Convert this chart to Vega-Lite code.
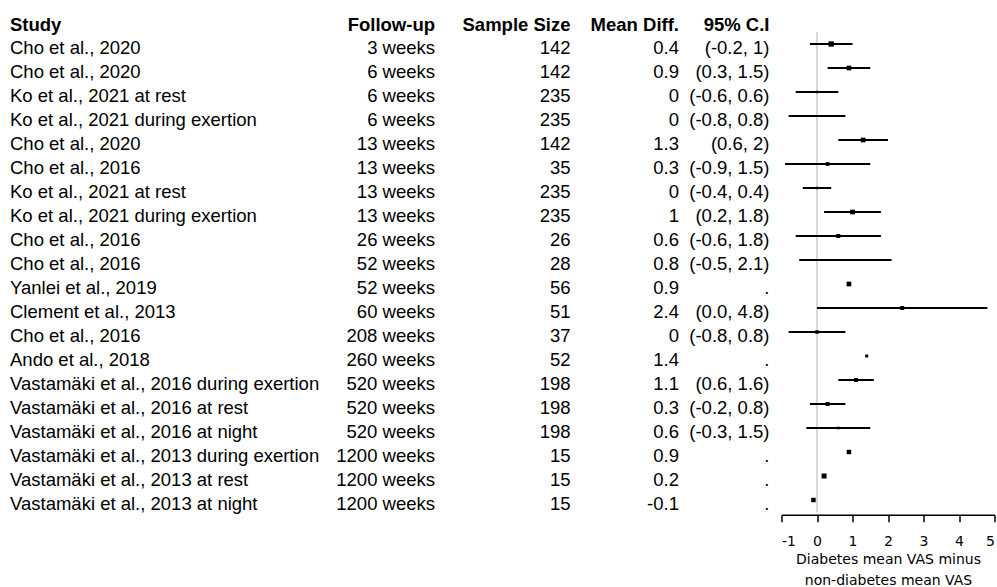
{
  "$schema": "https://vega.github.io/schema/vega-lite/v6.json",
  "padding": {"left": 10, "top": 15, "right": 0, "bottom": 0},
  "background": "white",
  "bounds": "flush",
  "spacing": 11.5,
  "config": {
    "view": {"stroke": null},
    "text": {"font": "Liberation Sans", "fontSize": 18.5, "color": "black"},
    "title": {"font": "Liberation Sans", "fontSize": 18.5, "fontWeight": "bold", "color": "black", "frame": "group", "baseline": "alphabetic", "offset": -2},
    "axisX": {
      "values": [-1, 0, 1, 2, 3, 4, 5],
      "labelExpr": "'' + datum.value",
      "labelOverlap": false,
      "grid": false,
      "offset": 2.7,
      "domainColor": "black", "domainWidth": 1.5,
      "tickColor": "black", "tickWidth": 1.5, "tickSize": 7,
      "labelFont": "DejaVu Sans", "labelFontSize": 14, "labelColor": "black", "labelPadding": 12.5,
      "titleFont": "DejaVu Sans", "titleFontSize": 14, "titleFontWeight": "normal", "titleColor": "black",
      "titleLineHeight": 21, "titlePadding": 4.5
    }
  },
  "data": {
    "values": [
      {"id": 1, "study": "Cho et al., 2020", "follow": "3 weeks", "n": 142, "md": 0.4, "lo": -0.2, "hi": 1, "ci": "(-0.2, 1)", "weight": 100},
      {"id": 2, "study": "Cho et al., 2020", "follow": "6 weeks", "n": 142, "md": 0.9, "lo": 0.3, "hi": 1.5, "ci": "(0.3, 1.5)", "weight": 79},
      {"id": 3, "study": "Ko et al., 2021 at rest", "follow": "6 weeks", "n": 235, "md": 0, "lo": -0.6, "hi": 0.6, "ci": "(-0.6, 0.6)", "weight": 21},
      {"id": 4, "study": "Ko et al., 2021 during exertion", "follow": "6 weeks", "n": 235, "md": 0, "lo": -0.8, "hi": 0.8, "ci": "(-0.8, 0.8)", "weight": 14},
      {"id": 5, "study": "Cho et al., 2020", "follow": "13 weeks", "n": 142, "md": 1.3, "lo": 0.6, "hi": 2, "ci": "(0.6, 2)", "weight": 79},
      {"id": 6, "study": "Cho et al., 2016", "follow": "13 weeks", "n": 35, "md": 0.3, "lo": -0.9, "hi": 1.5, "ci": "(-0.9, 1.5)", "weight": 50},
      {"id": 7, "study": "Ko et al., 2021 at rest", "follow": "13 weeks", "n": 235, "md": 0, "lo": -0.4, "hi": 0.4, "ci": "(-0.4, 0.4)", "weight": 21},
      {"id": 8, "study": "Ko et al., 2021 during exertion", "follow": "13 weeks", "n": 235, "md": 1, "lo": 0.2, "hi": 1.8, "ci": "(0.2, 1.8)", "weight": 79},
      {"id": 9, "study": "Cho et al., 2016", "follow": "26 weeks", "n": 26, "md": 0.6, "lo": -0.6, "hi": 1.8, "ci": "(-0.6, 1.8)", "weight": 57},
      {"id": 10, "study": "Cho et al., 2016", "follow": "52 weeks", "n": 28, "md": 0.8, "lo": -0.5, "hi": 2.1, "ci": "(-0.5, 2.1)", "weight": 14},
      {"id": 11, "study": "Yanlei et al., 2019", "follow": "52 weeks", "n": 56, "md": 0.9, "lo": null, "hi": null, "ci": ".", "weight": 79},
      {"id": 12, "study": "Clement et al., 2013", "follow": "60 weeks", "n": 51, "md": 2.4, "lo": 0.0, "hi": 4.8, "ci": "(0.0, 4.8)", "weight": 57},
      {"id": 13, "study": "Cho et al., 2016", "follow": "208 weeks", "n": 37, "md": 0, "lo": -0.8, "hi": 0.8, "ci": "(-0.8, 0.8)", "weight": 43},
      {"id": 14, "study": "Ando et al., 2018", "follow": "260 weeks", "n": 52, "md": 1.4, "lo": null, "hi": null, "ci": ".", "weight": 32},
      {"id": 15, "study": "Vastamäki et al., 2016 during exertion", "follow": "520 weeks", "n": 198, "md": 1.1, "lo": 0.6, "hi": 1.6, "ci": "(0.6, 1.6)", "weight": 57},
      {"id": 16, "study": "Vastamäki et al., 2016 at rest", "follow": "520 weeks", "n": 198, "md": 0.3, "lo": -0.2, "hi": 0.8, "ci": "(-0.2, 0.8)", "weight": 57},
      {"id": 17, "study": "Vastamäki et al., 2016 at night", "follow": "520 weeks", "n": 198, "md": 0.6, "lo": -0.3, "hi": 1.5, "ci": "(-0.3, 1.5)", "weight": 25},
      {"id": 18, "study": "Vastamäki et al., 2013 during exertion", "follow": "1200 weeks", "n": 15, "md": 0.9, "lo": null, "hi": null, "ci": ".", "weight": 71},
      {"id": 19, "study": "Vastamäki et al., 2013 at rest", "follow": "1200 weeks", "n": 15, "md": 0.2, "lo": null, "hi": null, "ci": ".", "weight": 89},
      {"id": 20, "study": "Vastamäki et al., 2013 at night", "follow": "1200 weeks", "n": 15, "md": -0.1, "lo": null, "hi": null, "ci": ".", "weight": 71}
    ]
  },
  "hconcat": [
    {
      "width": 290, "height": 480,
      "title": {"text": "Study", "anchor": "start"},
      "mark": {"type": "text", "align": "left", "baseline": "middle", "dy": 4},
      "encoding": {
        "y": {"field": "id", "type": "ordinal", "axis": null, "scale": {"type": "point", "padding": 0.5}},
        "x": {"value": 0},
        "text": {"field": "study", "type": "nominal"}
      }
    },
    {
      "width": 123.5, "height": 480,
      "title": {"text": "Follow-up", "anchor": "end"},
      "mark": {"type": "text", "align": "right", "baseline": "middle", "dy": 4},
      "encoding": {
        "y": {"field": "id", "type": "ordinal", "axis": null, "scale": {"type": "point", "padding": 0.5}},
        "x": {"value": "width"},
        "text": {"field": "follow", "type": "nominal"}
      }
    },
    {
      "width": 123.5, "height": 480,
      "title": {"text": "Sample Size", "anchor": "end"},
      "mark": {"type": "text", "align": "right", "baseline": "middle", "dy": 4},
      "encoding": {
        "y": {"field": "id", "type": "ordinal", "axis": null, "scale": {"type": "point", "padding": 0.5}},
        "x": {"value": "width"},
        "text": {"field": "n", "type": "nominal"}
      }
    },
    {
      "width": 96.5, "height": 480,
      "title": {"text": "Mean Diff.", "anchor": "end"},
      "mark": {"type": "text", "align": "right", "baseline": "middle", "dy": 4},
      "encoding": {
        "y": {"field": "id", "type": "ordinal", "axis": null, "scale": {"type": "point", "padding": 0.5}},
        "x": {"value": "width"},
        "text": {"field": "md", "type": "nominal"}
      }
    },
    {
      "width": 78.5, "height": 480,
      "title": {"text": "95% C.I", "anchor": "end"},
      "mark": {"type": "text", "align": "right", "baseline": "middle", "dy": 4},
      "encoding": {
        "y": {"field": "id", "type": "ordinal", "axis": null, "scale": {"type": "point", "padding": 0.5}},
        "x": {"value": "width"},
        "text": {"field": "ci", "type": "nominal"}
      }
    },
    {
      "width": 213, "height": 480,
      "layer": [
        {
          "mark": {"type": "rule", "color": "#d9d9d9", "strokeWidth": 1.5},
          "encoding": {
            "x": {"datum": 0, "type": "quantitative", "scale": {"domain": [-1, 5], "nice": false, "zero": false},
              "axis": {"title": ["Diabetes mean VAS minus", "non-diabetes mean VAS"]}}
          }
        },
        {
          "transform": [{"filter": "datum.lo != null"}],
          "mark": {"type": "rule", "color": "black", "strokeWidth": 2},
          "encoding": {
            "y": {"field": "id", "type": "ordinal", "axis": null, "scale": {"type": "point", "padding": 0.5}},
            "x": {"field": "lo", "type": "quantitative", "axis": {"title": ["Diabetes mean VAS minus", "non-diabetes mean VAS"]}},
            "x2": {"field": "hi"}
          }
        },
        {
          "mark": {"type": "point", "shape": "square", "filled": true, "color": "black", "opacity": 1},
          "encoding": {
            "y": {"field": "id", "type": "ordinal", "axis": null, "scale": {"type": "point", "padding": 0.5}},
            "x": {"field": "md", "type": "quantitative", "axis": {"title": ["Diabetes mean VAS minus", "non-diabetes mean VAS"]}},
            "size": {"field": "weight", "type": "quantitative", "scale": {"domain": [0, 100], "range": [0, 28]}, "legend": null}
          }
        }
      ]
    }
  ]
}
